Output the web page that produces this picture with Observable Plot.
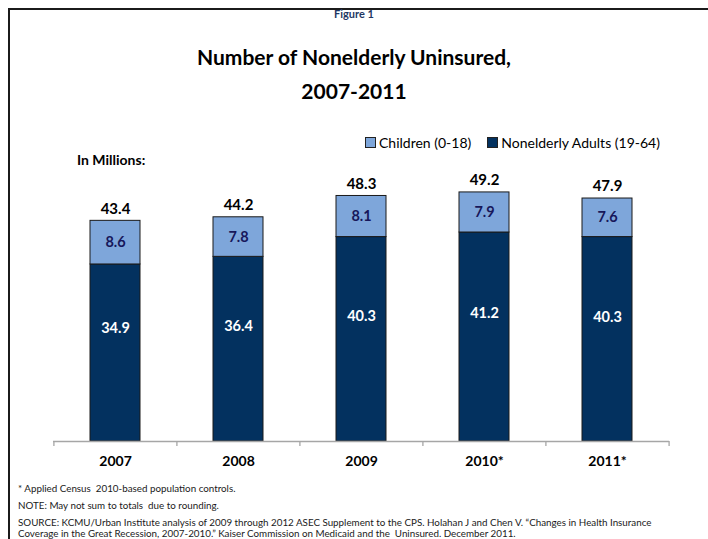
<!DOCTYPE html>
<html><head><meta charset="utf-8">
<script src="https://cdn.jsdelivr.net/npm/d3@7"></script>
<script src="https://cdn.jsdelivr.net/npm/@observablehq/plot@0.6"></script>
<style>
html,body{margin:0;padding:0;width:708px;height:539px;overflow:hidden;background:#fff;font-family:Lato,sans-serif;}
#frame{position:absolute;left:8px;top:8px;width:720px;height:560px;border-left:2px solid #1b1b1b;border-top:2px solid #1b1b1b;box-sizing:border-box;}
#chart{position:absolute;left:0;top:0;}
.t{position:absolute;white-space:nowrap;color:#000;}
.center{left:0;width:708px;text-align:center;}
#fig{top:7px;font-size:11px;font-weight:bold;color:#1f3864;}
#title{top:40px;font-size:21px;font-weight:bold;line-height:34px;}
#legend{left:365px;top:134px;font-size:14px;display:flex;align-items:center;}
#legend span.sw{display:inline-block;width:9px;height:9px;border:1px solid #222;margin-right:3px;}
#legend span.item{display:flex;align-items:center;margin-right:16px;}
#units{left:77px;top:151px;font-size:14px;font-weight:bold;}
#notes{left:18px;top:483px;font-size:9.8px;line-height:11px;color:#1a1a1a;}
#notes div{position:absolute;left:0;white-space:pre;}
</style></head><body>
<div id="frame"></div>
<div id="chart"></div>
<div class="t center" id="fig">Figure 1</div>
<div class="t center" id="title">Number of Nonelderly Uninsured,<br>2007-2011</div>
<div class="t" id="legend"></div>
<div class="t" id="units">In Millions:</div>
<div class="t" id="notes"></div>
<script>
// ---- data ----
const years = ["2007", "2008", "2009", "2010*", "2011*"];
const children = [8.6, 7.8, 8.1, 7.9, 7.6];
const adults = [34.9, 36.4, 40.3, 41.2, 40.3];
const totals = [43.4, 44.2, 48.3, 49.2, 47.9];
const seriesNames = ["Children (0-18)", "Nonelderly Adults (19-64)"];
const seriesColors = ["#7ea6da", "#03315f"];
const notes = [
  "* Applied Census  2010-based population controls.",
  "NOTE: May not sum to totals  due to rounding.",
  "SOURCE: KCMU/Urban Institute analysis of 2009 through 2012 ASEC Supplement to the CPS. Holahan J and Chen V. \u201cChanges in Health Insurance",
  "Coverage in the Great Recession, 2007-2010.\u201d Kaiser Commission on Medicaid and the  Uninsured. December 2011."
];

// ---- layout ----
const W = 708, H = 539, mL = 53, mR = 39, mT = 162, mB = 98;
const innerH = H - mT - mB;
const step = (W - mL - mR) / years.length;

const table = years.map((y, i) => ({year: y, children: children[i], adults: adults[i], total: totals[i]}));
const rows = years.flatMap((y, i) => [
  {year: y, group: seriesNames[1], value: adults[i]},
  {year: y, group: seriesNames[0], value: children[i]}
]);

const chart = Plot.plot({
  width: W, height: H,
  marginLeft: mL, marginRight: mR, marginTop: mT, marginBottom: mB,
  style: {fontFamily: "Lato, sans-serif", fontSize: "14px", fontWeight: "bold", color: "#000", background: "transparent", overflow: "visible"},
  x: {domain: years, paddingInner: 0.59, paddingOuter: 0.295, label: null, tickSize: 0, tickPadding: 15},
  y: {domain: [0, 55], axis: null},
  color: {domain: seriesNames, range: seriesColors},
  marks: [
    Plot.barY(rows, {x: "year", y: "value", fill: "group", stroke: "#1a1a1a", strokeWidth: 1}),
    Plot.ruleY([0], {stroke: "#a6a6a6", strokeWidth: 1.3}),
    Plot.ruleX(years, {x: d => d, dx: -step / 2, insetTop: innerH, insetBottom: -5, stroke: "#a6a6a6", strokeWidth: 1.3}),
    Plot.ruleX(years.slice(-1), {x: d => d, dx: step / 2, insetTop: innerH, insetBottom: -5, stroke: "#a6a6a6", strokeWidth: 1.3}),
    Plot.text(table, {x: "year", y: "total", text: d => d.total.toFixed(1), dy: -12, fontSize: 15, fill: "#000"}),
    Plot.text(table, {x: "year", y: d => d.adults + d.children / 2, text: d => d.children.toFixed(1), fontSize: 14.5, fill: "#17175a"}),
    Plot.text(table, {x: "year", y: d => d.total / 2, dy: -3, text: d => d.adults.toFixed(1), fontSize: 14.5, fill: "#fff"})
  ]
});
document.getElementById("chart").appendChild(chart);

// legend
const lg = document.getElementById("legend");
seriesNames.forEach((n, i) => {
  const it = document.createElement("span");
  it.className = "item";
  const sw = document.createElement("span");
  sw.className = "sw";
  sw.style.background = seriesColors[i];
  it.appendChild(sw);
  it.appendChild(document.createTextNode(n));
  lg.appendChild(it);
});

// notes
const nt = document.getElementById("notes");
const tops = [0, 17, 34, 45];
notes.forEach((s, i) => {
  const d = document.createElement("div");
  d.style.top = tops[i] + "px";
  d.textContent = s;
  nt.appendChild(d);
});
</script>
</body></html>
